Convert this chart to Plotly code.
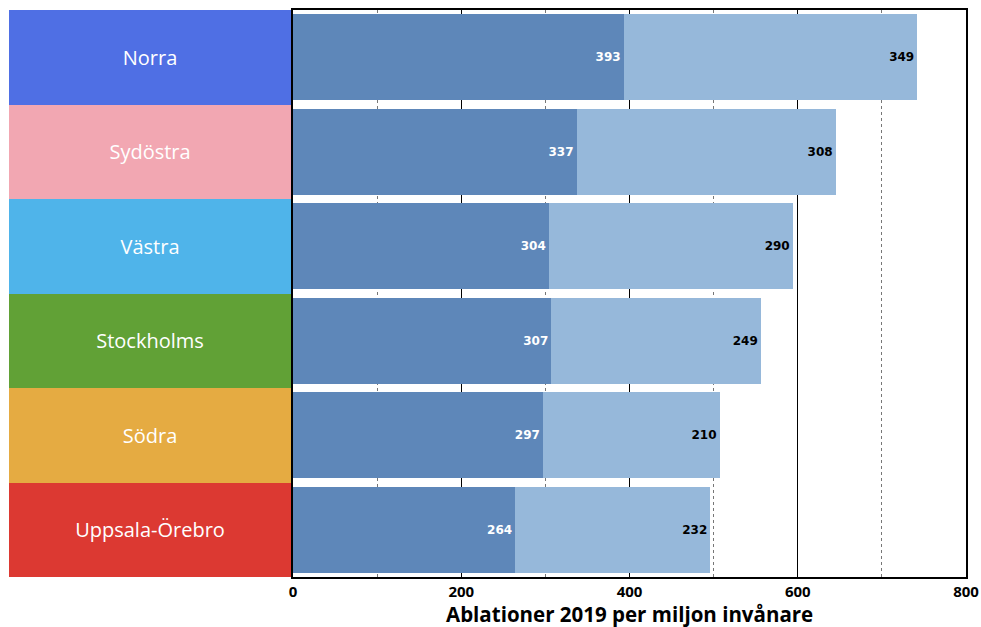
import plotly.graph_objects as go

regions = ["Norra", "Sydöstra", "Västra", "Stockholms", "Södra", "Uppsala-Örebro"]
region_colors = ["#4F6FE4", "#F2A7B2", "#4FB4EA", "#61A136", "#E5AB42", "#DC3932"]
dark_values = [393, 337, 304, 307, 297, 264]
light_values = [349, 308, 290, 249, 210, 232]
x_title = "Ablationer 2019 per miljon invånare"

fig = go.Figure()

# left colored label panel
fig.add_trace(go.Bar(
    y=regions, x=[1] * len(regions), orientation="h",
    xaxis="x2", yaxis="y", width=1,
    marker=dict(color=region_colors, line=dict(width=0)),
    text=regions, textposition="inside", insidetextanchor="middle",
    textfont=dict(family="Open Sans", size=20, color="white"),
    hoverinfo="skip", showlegend=False,
))

fig.add_trace(go.Bar(
    y=regions, x=dark_values, orientation="h", width=0.91,
    marker=dict(color="#5E87B9", line=dict(width=0)),
    text=dark_values, textposition="inside", insidetextanchor="end",
    textfont=dict(family="DejaVu Sans", size=12, color="white", weight="bold"),
    showlegend=False,
))
fig.add_trace(go.Bar(
    y=regions, x=light_values, orientation="h", width=0.91,
    marker=dict(color="#96B8DA", line=dict(width=0)),
    text=light_values, textposition="inside", insidetextanchor="end",
    textfont=dict(family="DejaVu Sans", size=12, color="black", weight="bold"),
    showlegend=False,
))

fig.update_layout(
    width=981, height=627,
    margin=dict(l=9, r=15, t=10, b=50, autoexpand=False),
    barmode="stack",
    plot_bgcolor="white", paper_bgcolor="white",
    xaxis=dict(
        domain=[0.2968, 1], range=[0, 800], dtick=200, automargin=False,
        showgrid=True, gridcolor="black", gridwidth=1.3,
        minor=dict(dtick=100, showgrid=True, gridcolor="#777777", griddash="dot", gridwidth=1.3),
        showline=True, linecolor="black", linewidth=1.5, mirror=True,
        zeroline=False, ticks="",
        tickfont=dict(family="Open Sans", size=15, color="black", weight="bold"),
    ),
    xaxis2=dict(domain=[0, 0.2947], range=[0, 1], visible=False, anchor="y"),
    yaxis=dict(
        autorange="reversed", showticklabels=False, ticks="", automargin=False,
        showline=True, linecolor="black", linewidth=1.5, mirror=True,
        showgrid=False, zeroline=False,
    ),
    annotations=[dict(
        text=x_title, xref="x domain", yref="paper", x=0.5, y=-0.065,
        xanchor="center", yanchor="middle", showarrow=False,
        font=dict(family="Open Sans", size=20.5, color="black", weight="bold"),
    )],
)

fig.write_html("out.html", config={"displayModeBar": False},
               post_script="document.body.style.margin='0';")
